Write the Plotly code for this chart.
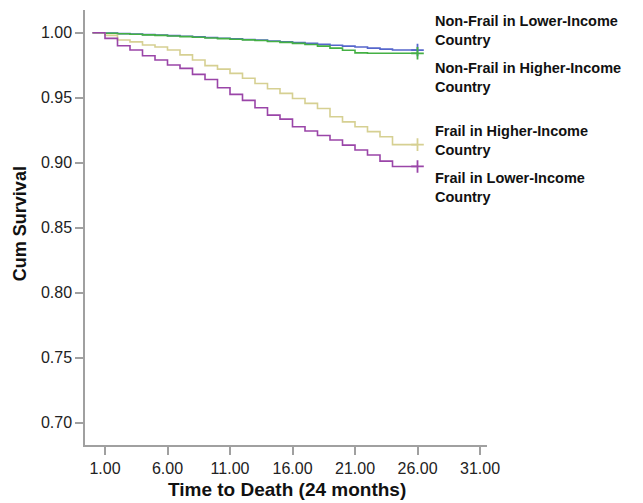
import plotly.graph_objects as go

months = [0, 1, 2, 3, 4, 5, 6, 7, 8, 9, 10, 11, 12, 13, 14, 15, 16, 17, 18, 19, 20, 21, 22, 23, 24, 26]

nonfrail_lower = [1.0, 0.9997, 0.9993, 0.999, 0.9986, 0.9982, 0.9978, 0.9973, 0.9968, 0.9963,
                  0.9958, 0.9953, 0.9948, 0.9943, 0.9937, 0.9931, 0.9925, 0.9918, 0.9911, 0.9904,
                  0.9897, 0.989, 0.9882, 0.9874, 0.9867, 0.9867]
nonfrail_higher = [1.0, 0.9996, 0.9992, 0.9988, 0.9984, 0.998, 0.9975, 0.997, 0.9965, 0.996,
                   0.9955, 0.995, 0.9945, 0.994, 0.9933, 0.9926, 0.9918, 0.991, 0.9897, 0.9882,
                   0.9865, 0.9845, 0.9842, 0.9842, 0.9842, 0.9842]
frail_higher = [1.0, 0.998, 0.9944, 0.993, 0.9906, 0.989, 0.9867, 0.983, 0.979, 0.9747,
                0.972, 0.9688, 0.965, 0.961, 0.957, 0.9534, 0.9495, 0.9457, 0.9418, 0.9354,
                0.9315, 0.9277, 0.924, 0.920, 0.914, 0.914]
frail_lower = [1.0, 0.9957, 0.990, 0.9867, 0.9823, 0.979, 0.9752, 0.9726, 0.968, 0.964,
               0.9577, 0.9526, 0.948, 0.9423, 0.9367, 0.9336, 0.9277, 0.9245, 0.921, 0.9175,
               0.9136, 0.9098, 0.906, 0.9013, 0.8972, 0.8972]

series_names = ["Non-Frail in Lower-Income<br>Country", "Non-Frail in Higher-Income<br>Country",
                "Frail in Higher-Income<br>Country", "Frail in Lower-Income<br>Country"]
series_values = [nonfrail_lower, nonfrail_higher, frail_higher, frail_lower]
colors = ["#5566cc", "#44b044", "#d6d092", "#9a45a8"]
label_y = [0.952, 0.8437, 0.699, 0.593]

y_ticks = [0.70, 0.75, 0.80, 0.85, 0.90, 0.95, 1.00]
x_ticks = [1, 6, 11, 16, 21, 26, 31]

fig = go.Figure()
for vals, col in zip(series_values, colors):
    fig.add_trace(go.Scatter(x=months, y=vals, mode="lines", line=dict(color=col, width=1.6, shape="hv"),
                             showlegend=False, hoverinfo="skip"))
    fig.add_trace(go.Scatter(x=[months[-1]], y=[vals[-1]], mode="markers",
                             marker=dict(symbol="cross-thin", size=9, line=dict(color=col, width=1.8)),
                             showlegend=False, hoverinfo="skip"))

for name, yy in zip(series_names, label_y):
    fig.add_annotation(x=0.866, y=yy, xref="paper", yref="paper",
                       text="<b>" + name.replace("<br>", "</b><br><b>") + "</b>",
                       showarrow=False, xanchor="left", yanchor="middle", align="left",
                       font=dict(family="Liberation Sans, Arial", size=14.5, color="#111"))

fig.add_annotation(x=-0.1617, y=0.51, xref="paper", yref="paper", text="<b>Cum Survival</b>",
                   textangle=-90, showarrow=False, xanchor="center", yanchor="middle",
                   font=dict(family="Liberation Sans, Arial", size=18, color="#111"))
fig.add_annotation(x=0.503, y=-0.1034, xref="paper", yref="paper", text="<b>Time to Death (24 months)</b>",
                   showarrow=False, xanchor="center", yanchor="middle",
                   font=dict(family="Liberation Sans, Arial", size=19, color="#111"))

axis_common = dict(showgrid=False, zeroline=False, showline=True, linecolor="#a0a0a0", linewidth=1.5,
                   ticks="outside", ticklen=8, tickwidth=1.5, tickcolor="#a0a0a0",
                   tickfont=dict(family="Liberation Sans, Arial", size=16, color="#222"))

fig.update_layout(
    width=643, height=503,
    margin=dict(l=85, r=156, t=10, b=58),
    plot_bgcolor="white", paper_bgcolor="white",
    xaxis=dict(range=[-0.6, 31.56], tickvals=x_ticks, tickformat=".2f", **axis_common),
    yaxis=dict(range=[0.683, 1.0175], tickvals=y_ticks, tickformat=".2f", **axis_common),
)

fig.write_html("out.html", config={"displayModeBar": False},
               post_script="document.body.style.margin='0';document.body.style.overflow='hidden';")
